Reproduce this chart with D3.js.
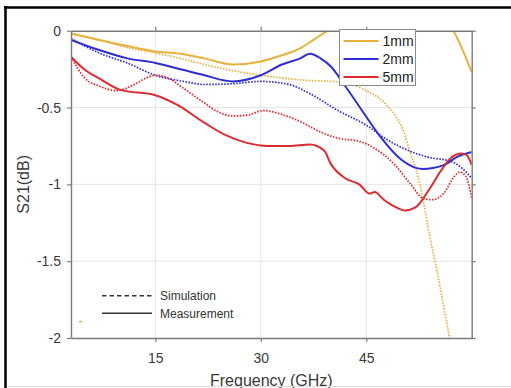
<!DOCTYPE html>
<html>
<head>
<meta charset="utf-8">
<script src="https://cdn.jsdelivr.net/npm/d3@7"></script>
<style>
  html, body { margin: 0; padding: 0; background: #fff; }
  svg { display: block; }
  text { font-family: "Liberation Sans", Arial, sans-serif; }
</style>
</head>
<body>
<script>
// S21 of the three samples: frequency (GHz) vs S21 (dB)
const freqTicks = [15, 30, 45];
const s21Ticks = [0, -0.5, -1, -1.5, -2];
const sizes = ["1mm", "2mm", "5mm"];
const sizeColors = ["#e6b13e", "#2e2ed2", "#dc2a2f"];

// measured curves [GHz, dB]
const meas1mm = [[3,-0.02],[7,-0.06],[11,-0.10],[15,-0.135],[18.5,-0.15],[22,-0.18],[26,-0.22],[30,-0.20],[33,-0.16],[35.6,-0.115],[37.5,-0.06],[39.5,0],[43,0.1],[49,0.2],[54,0.15],[57.4,0],[60,-0.27]];
const meas2mm = [[3,-0.06],[7,-0.126],[11,-0.18],[15,-0.21],[19,-0.256],[22,-0.29],[26,-0.33],[30,-0.29],[33,-0.22],[35.6,-0.18],[37,-0.15],[38.5,-0.18],[40,-0.235],[42,-0.36],[45,-0.56],[47,-0.69],[50,-0.84],[53,-0.90],[56,-0.875],[58,-0.82],[60,-0.79]];
const meas5mm = [[3,-0.17],[5,-0.256],[7,-0.31],[10,-0.385],[15,-0.42],[18,-0.48],[22,-0.60],[25,-0.68],[28,-0.73],[31,-0.75],[34,-0.75],[37,-0.74],[39,-0.78],[40,-0.87],[42,-0.96],[44,-1.00],[45.5,-1.06],[46.2,-1.05],[47.5,-1.10],[49.5,-1.155],[50.5,-1.17],[52,-1.15],[54,-1.03],[55.5,-0.92],[57,-0.83],[58.5,-0.80],[59.3,-0.81],[60,-0.875]];

// simulated curves [GHz, dB]
const sim1mm = [[3,-0.015],[7,-0.06],[11,-0.11],[15,-0.145],[18.5,-0.18],[22,-0.22],[26,-0.26],[30,-0.29],[35.6,-0.32],[41.3,-0.335],[45,-0.39],[47.8,-0.48],[50.5,-0.68],[51.3,-0.80],[52,-0.89],[53,-1.08],[54,-1.33],[55,-1.55],[56,-1.79],[56.8,-2.0],[57.5,-2.3]];
const sim2mm = [[3,-0.05],[7,-0.145],[11,-0.21],[15,-0.29],[19,-0.33],[22,-0.35],[26,-0.345],[30,-0.33],[34,-0.35],[37,-0.41],[41,-0.52],[45,-0.615],[48,-0.71],[51,-0.78],[54,-0.825],[57,-0.85],[58.5,-0.89],[60,-0.96]];
const sim5mm = [[3,-0.17],[5,-0.31],[7,-0.36],[9.5,-0.39],[11.8,-0.355],[13.6,-0.31],[15,-0.29],[16.9,-0.31],[19,-0.375],[21.5,-0.455],[24,-0.53],[26,-0.555],[28,-0.55],[30.4,-0.52],[33,-0.545],[36,-0.60],[38.5,-0.66],[41,-0.70],[44,-0.72],[46,-0.76],[49,-0.87],[51.5,-1.01],[53,-1.09],[54.3,-1.10],[56,-1.06],[57.5,-0.95],[58.3,-0.92],[59.2,-0.95],[60,-1.09]];

const measured = [meas1mm, meas2mm, meas5mm];
const simulated = [sim1mm, sim2mm, sim5mm];
const styleLabels = ["Simulation", "Measurement"];

const W = 511, H = 388;
const plot = { left: 71, right: 471.7, top: 30.7, bottom: 338 };

const svg = d3.select("body").append("svg").attr("width", W).attr("height", H);
svg.append("rect").attr("width", W).attr("height", H).attr("fill", "#fff");

const x = d3.scaleLinear().domain([3, 60]).range([plot.left, plot.right]);
const y = d3.scaleLinear().domain([-2, 0]).range([plot.bottom, plot.top]);

// grid
const grid = svg.append("g").attr("stroke", "#e4e4e4").attr("stroke-width", 1);
grid.selectAll(".gx").data(freqTicks).join("line")
  .attr("x1", d => x(d)).attr("x2", d => x(d))
  .attr("y1", plot.top).attr("y2", plot.bottom);
grid.selectAll(".gy").data(s21Ticks.filter(d => d !== 0 && d !== -2)).join("line")
  .attr("y1", d => y(d)).attr("y2", d => y(d))
  .attr("x1", plot.left).attr("x2", plot.right);

// curves
const clip = svg.append("clipPath").attr("id", "plotclip").append("rect")
  .attr("x", plot.left).attr("y", plot.top)
  .attr("width", plot.right - plot.left).attr("height", plot.bottom - plot.top);
const line = d3.line().x(d => x(d[0])).y(d => y(d[1])).curve(d3.curveMonotoneX);
const curves = svg.append("g").attr("clip-path", "url(#plotclip)");
simulated.forEach((s, i) => {
  curves.append("path").attr("d", line(s)).attr("fill", "none")
    .attr("stroke", sizeColors[i]).attr("stroke-width", 1.7)
    .attr("stroke-dasharray", "1.6,1.4");
});
measured.forEach((s, i) => {
  curves.append("path").attr("d", line(s)).attr("fill", "none")
    .attr("stroke", sizeColors[i]).attr("stroke-width", 2)
    .attr("stroke-linejoin", "round");
});

// axes (box with outward ticks)
function styleAxis(g) {
  g.select(".domain").attr("stroke", "#7a7a7a").attr("stroke-width", 1.4);
  g.selectAll(".tick line").attr("stroke", "#7a7a7a").attr("stroke-width", 1.2);
  g.selectAll("text").attr("fill", "#3a3a3a").style("font-size", "14px")
    .style("font-family", "'Liberation Sans', Arial, sans-serif");
}
svg.append("g").attr("transform", `translate(0,${plot.bottom})`)
  .call(d3.axisBottom(x).tickValues(freqTicks).tickSize(4).tickSizeOuter(0).tickPadding(11))
  .call(styleAxis);
svg.append("g").attr("transform", `translate(0,${plot.top})`)
  .call(d3.axisTop(x).tickValues(freqTicks).tickSize(4).tickSizeOuter(0).tickFormat(""))
  .call(styleAxis);
svg.append("g").attr("transform", `translate(${plot.left},0)`)
  .call(d3.axisLeft(y).tickValues(s21Ticks).tickSize(4).tickSizeOuter(0).tickPadding(6).tickFormat(d => String(d)))
  .call(styleAxis);
svg.append("g").attr("transform", `translate(${plot.right},0)`)
  .call(d3.axisRight(y).tickValues(s21Ticks).tickSize(4).tickSizeOuter(0).tickFormat(""))
  .call(styleAxis);

// axis titles
svg.append("text").attr("x", (plot.left + plot.right) / 2).attr("y", 386)
  .attr("text-anchor", "middle").attr("fill", "#3a3a3a").style("font-size", "16px")
  .text("Frequency (GHz)");
svg.append("text").attr("transform", `translate(29,${(plot.top + plot.bottom) / 2}) rotate(-90)`)
  .attr("text-anchor", "middle").attr("fill", "#3a3a3a").style("font-size", "16px")
  .text("S21(dB)");

// size legend
const lg = svg.append("g").attr("transform", "translate(339.5,29.5)");
lg.append("rect").attr("width", 76).attr("height", 56).attr("fill", "#fff")
  .attr("stroke", "#8a8a8a").attr("stroke-width", 1);
sizes.forEach((s, i) => {
  const yy = 11.5 + i * 18;
  lg.append("line").attr("x1", 4).attr("x2", 39).attr("y1", yy).attr("y2", yy)
    .attr("stroke", sizeColors[i]).attr("stroke-width", 2);
  lg.append("text").attr("x", 43).attr("y", yy).attr("dy", "0.35em")
    .attr("fill", "#222").style("font-size", "14px").text(s);
});

// line-style legend
const sg = svg.append("g");
styleLabels.forEach((s, i) => {
  const yy = 295.7 + i * 17.6;
  sg.append("line").attr("x1", 102).attr("x2", 152).attr("y1", yy).attr("y2", yy)
    .attr("stroke", "#333").attr("stroke-width", 1.5)
    .attr("stroke-dasharray", i === 0 ? "4.5,3" : null);
  sg.append("text").attr("x", 160).attr("y", yy).attr("dy", "0.35em")
    .attr("fill", "#333").style("font-size", "12px").text(s);
});
sg.append("line").attr("x1", 79).attr("x2", 82).attr("y1", 321.7).attr("y2", 321.7)
  .attr("stroke", sizeColors[0]).attr("stroke-width", 1.5);

// frame
svg.append("line").attr("x1", 5.5).attr("x2", 5.5).attr("y1", 6).attr("y2", H)
  .attr("stroke", "#000").attr("stroke-width", 2.5);
svg.append("line").attr("x1", 4).attr("x2", W).attr("y1", 7.5).attr("y2", 7.5)
  .attr("stroke", "#000").attr("stroke-width", 2.5);
svg.append("line").attr("x1", 7).attr("x2", W).attr("y1", 386.5).attr("y2", 386.5)
  .attr("stroke", "#dcdcdc").attr("stroke-width", 1);
</script>
</body>
</html>
